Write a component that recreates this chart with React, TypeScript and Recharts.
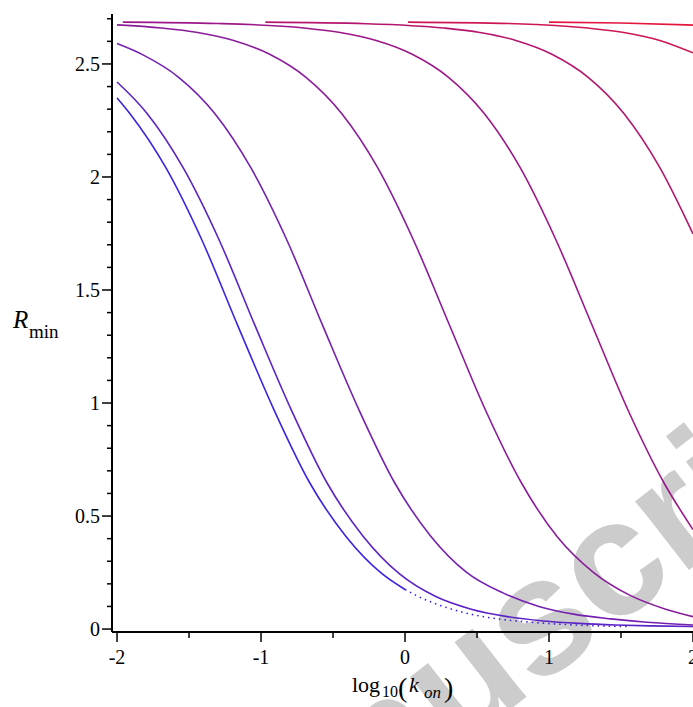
import { LineChart, Line, XAxis, YAxis } from "recharts";

// R_min against log10(k_on), one curve per parameter value (blue -> red)
const xA = [-2, -1.91, -1.66, -1.41, -1.16, -0.91, -0.66, -0.41, -0.16, 0];
const yA = [2.35, 2.28, 2.04, 1.72, 1.34, 0.97, 0.645, 0.41, 0.245, 0.175];
// blue curve goes dotted near the floor
const xAtail = [0, 0.09, 0.34, 0.59, 0.84, 1.09, 1.34, 1.55];
const yAtail = [0.175, 0.145, 0.085, 0.05, 0.032, 0.021, 0.014, 0.011];

const xB = [-2, -1.79, -1.54, -1.29, -1.04, -0.79, -0.54, -0.29, -0.04, 0.21, 0.46, 0.71, 0.96, 1.21, 1.46, 1.71, 2];
const yB = [2.42, 2.28, 2.04, 1.72, 1.34, 0.97, 0.645, 0.41, 0.245, 0.145, 0.088, 0.055, 0.036, 0.025, 0.018, 0.014, 0.011];

const xC = [-2, -1.82, -1.57, -1.32, -1.07, -0.82, -0.57, -0.32, -0.07, 0.18, 0.43, 0.68, 0.93, 1.18, 1.43, 1.68, 2];
const yC = [2.59, 2.54, 2.44, 2.28, 2.04, 1.72, 1.34, 0.97, 0.645, 0.41, 0.25, 0.16, 0.1, 0.065, 0.045, 0.03, 0.018];

const xD = [-2, -1.69, -1.44, -1.19, -0.94, -0.69, -0.44, -0.19, 0.06, 0.31, 0.56, 0.81, 1.06, 1.31, 1.56, 1.81, 2];
const yD = [2.673, 2.659, 2.639, 2.604, 2.543, 2.442, 2.281, 2.041, 1.719, 1.343, 0.967, 0.645, 0.406, 0.25, 0.15, 0.088, 0.055];

const xE = [-1.96, -1.3, -0.7, -0.45, -0.2, 0.05, 0.3, 0.55, 0.8, 1.05, 1.3, 1.55, 1.8, 2];
const yE = [2.685, 2.679, 2.659, 2.639, 2.604, 2.543, 2.442, 2.281, 2.041, 1.719, 1.343, 0.967, 0.645, 0.44];

const xF = [-0.97, -0.27, 0.27, 0.52, 0.77, 1.02, 1.27, 1.52, 1.77, 2];
const yF = [2.685, 2.678, 2.659, 2.639, 2.604, 2.543, 2.442, 2.281, 2.041, 1.748];

const xG = [0.02, 0.77, 1.27, 1.52, 1.77, 2];
const yG = [2.685, 2.678, 2.659, 2.639, 2.604, 2.549];

const xH = [1.0, 1.5, 2];
const yH = [2.685, 2.681, 2.672];

const xTicks = [-2, -1.5, -1, -0.5, 0, 0.5, 1, 1.5, 2];
const xMajor = [-2, -1, 0, 1, 2];
const xLabels = ["-2", "-1", "0", "1", "2"];

const yTicks = [0, 0.1, 0.2, 0.3, 0.4, 0.5, 0.6, 0.7, 0.8, 0.9, 1, 1.1, 1.2, 1.3, 1.4, 1.5, 1.6, 1.7, 1.8, 1.9, 2, 2.1, 2.2, 2.3, 2.4, 2.5, 2.6, 2.7];
const yMajor = [0, 0.5, 1, 1.5, 2, 2.5];
const yLabels = ["0", "0.5", "1", "1.5", "2", "2.5"];

const pts = (xs: number[], ys: number[]) => xs.map((x, i) => ({ x, y: ys[i] }));

const series = [
  { key: "A", data: pts(xA, yA), color: "#3c22e2" },
  { key: "A2", data: pts(xAtail, yAtail), color: "#3c22e2", dash: "1.5 4" },
  { key: "B", data: pts(xB, yB), color: "#5b22c6" },
  { key: "C", data: pts(xC, yC), color: "#7520b0" },
  { key: "D", data: pts(xD, yD), color: "#8a1c9c" },
  { key: "E", data: pts(xE, yE), color: "#9c188a" },
  { key: "F", data: pts(xF, yF), color: "#b4166e" },
  { key: "G", data: pts(xG, yG), color: "#cc1658" },
  { key: "H", data: pts(xH, yH), color: "#e4163e" },
];

const SERIF = "'Liberation Serif', 'Times New Roman', serif";

const labelOf = (v: number, major: number[], labels: string[]) => {
  const i = major.findIndex((m) => Math.abs(m - v) < 1e-6);
  return i < 0 ? null : labels[i];
};

function YTick(props: any) {
  const { x, y, payload } = props;
  const lab = labelOf(payload.value, yMajor, yLabels);
  return (
    <g>
      <line x1={x - (lab ? 10 : 5)} x2={x} y1={y} y2={y} stroke="#000" strokeWidth={1.5} />
      {lab && (
        <text x={x - 12} y={y + 7} textAnchor="end" style={{ fontFamily: SERIF, fontSize: 20 }} fill="#000">
          {lab}
        </text>
      )}
    </g>
  );
}

function XTick(props: any) {
  const { x, y, payload } = props;
  const lab = labelOf(payload.value, xMajor, xLabels);
  return (
    <g>
      <line x1={x} x2={x} y1={y} y2={y + (lab ? 10 : 6)} stroke="#000" strokeWidth={1.5} />
      {lab && (
        <text x={x} y={y + 32} textAnchor="middle" style={{ fontFamily: SERIF, fontSize: 20 }} fill="#000">
          {lab}
        </text>
      )}
    </g>
  );
}

function XLabel() {
  return (
    <g style={{ fontFamily: SERIF }} fill="#000">
      <text x={352} y={692} fontSize={22}>log</text>
      <text x={382} y={697} fontSize={16}>10</text>
      <text x={398} y={697} fontSize={28}>(</text>
      <text x={409} y={692} fontSize={22} fontStyle="italic">k</text>
      <text x={424} y={698} fontSize={17} fontStyle="italic">on</text>
      <text x={444} y={697} fontSize={28}>)</text>
    </g>
  );
}

function YLabel() {
  return (
    <g style={{ fontFamily: SERIF }} fill="#000">
      <text x={13} y={328} fontSize={25} fontStyle="italic">R</text>
      <text x={29} y={338} fontSize={19}>min</text>
    </g>
  );
}

export default function App() {
  return (
    <div style={{ position: "fixed", left: 0, top: 0, width: 693, height: 707, overflow: "hidden", background: "#fff" }}>
      <svg width={693} height={707} style={{ position: "absolute", left: 0, top: 0 }}>
        <text
          transform="translate(545,628) rotate(-38)"
          x={-2.889 * 165}
          y={0.26 * 165}
          fontSize={165}
          fontWeight="bold"
          fontFamily="'Liberation Sans', Arial, sans-serif"
          fill="#cccccc"
        >
          Manuscript
        </text>
      </svg>
      <div style={{ position: "absolute", left: 0, top: 0 }}>
        <LineChart width={693} height={707} margin={{ top: 14, right: 0, left: 0, bottom: 0 }}>
          <XAxis
            xAxisId="b"
            dataKey="x"
            type="number"
            domain={[-2.035, 2]}
            allowDataOverflow
            ticks={xTicks}
            interval={0}
            tickLine={false}
            tickSize={0}
            tickMargin={0}
            tick={<XTick />}
            axisLine={{ stroke: "#000", strokeWidth: 2 }}
            height={75}
            label={<XLabel />}
          />
          <XAxis
            xAxisId="t"
            orientation="top"
            type="number"
            domain={[-2.035, 2]}
            allowDataOverflow
            tick={false}
            tickLine={false}
            axisLine={{ stroke: "#000", strokeWidth: 2 }}
            height={0}
          />
          <YAxis
            type="number"
            domain={[-0.013, 2.721]}
            allowDataOverflow
            ticks={yTicks}
            interval={0}
            tickLine={false}
            tickSize={0}
            tickMargin={0}
            tick={<YTick />}
            axisLine={{ stroke: "#000", strokeWidth: 2 }}
            width={112}
            label={<YLabel />}
          />
          {series.map((s) => (
            <Line
              key={s.key}
              xAxisId="b"
              data={s.data}
              dataKey="y"
              type="monotone"
              stroke={s.color}
              strokeWidth={1.6}
              strokeDasharray={s.dash}
              dot={false}
              activeDot={false}
              isAnimationActive={false}
            />
          ))}
        </LineChart>
      </div>
    </div>
  );
}
